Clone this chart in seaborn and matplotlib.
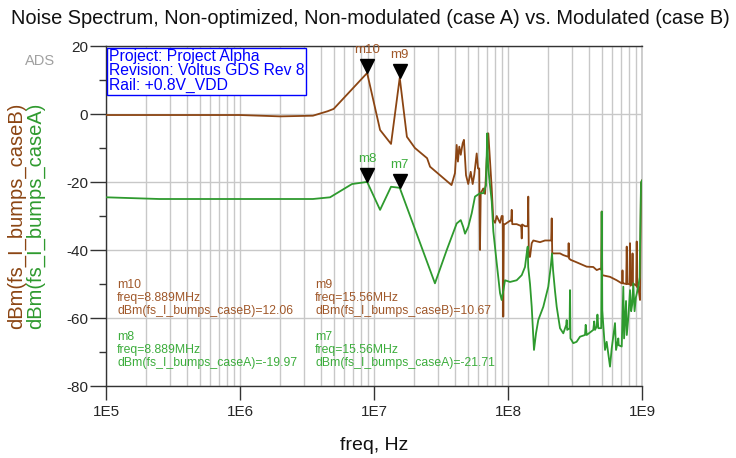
import numpy as np
import pandas as pd
import matplotlib
matplotlib.use("Agg")
import matplotlib.pyplot as plt
import matplotlib.transforms as mtransforms
from matplotlib.ticker import LogLocator, FixedLocator, NullFormatter
import seaborn as sns

# ---------------- data ----------------
freq_B_MHz = [0.1, 1.0, 2.0, 3.5, 4.5, 5.0, 8.889, 11.1, 13.4, 15.56, 17.6, 20.2, 24.9, 26.2,
              37.9, 40.2, 41.4, 42.3, 43.3, 44.4, 45.9, 46.9, 48.6, 50.5, 52.7, 54.5, 56.0,
              58.4, 59.7, 61.0, 61.8, 62.6, 65.4, 67.4, 69.3, 71.3, 73.4, 75.6, 77.7, 80.0,
              82.4, 84.6, 87.2, 89.7, 91.3, 92.2, 93.1, 95.0, 103.5, 105.6, 106.6, 107.6,
              116.1, 122.9, 125.5, 126.6, 127.7, 133.9, 140.5, 141.7, 143.0, 146.0, 150.3,
              154.5, 173.3, 188.8, 203.3, 210.0, 211.9, 213.8, 217.8, 244.4, 258.6, 281.8,
              283.5, 285.5, 293.7, 320.0, 386.6, 433.0, 459.2, 486.2, 496.0, 500.6, 505.0,
              577.2, 647.6, 705.7, 710.0, 715.0, 720.0, 725.0, 762.0, 769.0, 776.0, 806.0,
              813.8, 821.0, 845.0, 850.0, 855.0, 870.0, 905.0, 913.1, 921.0, 938.6, 966.2,
              983.0, 1000.0]
db_B = [-0.3, -0.3, -0.7, -0.5, 0.8, 1.5, 12.06, -4.7, -8.8, 10.67, -6.7, -10.0, -13.0, -15.5,
        -20.9, -17.4, -9.1, -14.0, -9.6, -12.0, -8.6, -7.6, -18.0, -20.6, -17.0, -20.6, -17.9,
        -11.6, -16.0, -16.0, -40.0, -23.3, -21.9, -23.5, -13.5, -5.7, -13.7, -21.9, -31.2, -32.0,
        -30.0, -31.0, -32.0, -30.0, -30.0, -59.6, -32.4, -32.4, -31.4, -31.4, -28.2, -32.4,
        -32.4, -32.8, -32.8, -36.6, -32.5, -33.0, -33.0, -24.3, -42.0, -42.0, -38.0,
        -37.2, -37.7, -37.2, -37.2, -37.2, -30.7, -41.0, -41.0, -41.0, -41.5, -42.0,
        -38.0, -42.5, -42.9, -43.5, -44.9, -45.0, -45.9, -45.5, -45.8, -28.7, -47.4,
        -47.9, -48.9, -49.8, -49.8, -46.0, -49.8, -49.8, -50.0, -39.0, -50.0, -50.0,
        -38.0, -50.5, -50.0, -41.0, -50.5, -50.0, -50.5, -37.5, -51.0, -50.8, -54.7,
        -20.3, -19.5]

freq_A_MHz = [0.1, 0.25, 3.5, 4.7, 6.85, 8.889, 11.1, 13.4, 15.56, 26.2, 28.5, 34.9, 41.4,
              44.4, 46.3, 47.8, 50.5, 53.6, 56.7, 61.8, 65.4, 68.5, 70.0, 71.0, 72.5, 75.6,
              77.7, 82.4, 87.2, 89.7, 93.3, 95.0, 103.5, 116.1, 126.6, 133.9, 137.9, 140.3,
              141.5, 146.0, 150.3, 156.3, 161.8, 168.3, 183.4, 199.8, 208.3, 213.0, 217.0,
              224.2, 230.9, 244.4, 258.6, 272.0, 274.2, 276.5, 288.0, 290.2, 292.5, 307.1,
              325.0, 344.6, 375.5, 380.0, 386.6, 433.0, 440.0, 446.0, 459.2, 465.0, 472.0,
              496.0, 500.6, 505.0, 529.7, 545.0, 577.2, 594.0, 628.9, 640.0, 665.6, 670.0,
              705.7, 725.4, 735.0, 760.0, 770.0, 790.0, 813.8, 830.0, 845.0, 861.0, 880.0,
              900.0, 938.6, 960.0, 983.0, 1000.0]
db_A = [-24.5, -25.0, -25.0, -24.5, -20.6, -19.97, -28.2, -21.4, -21.71, -45.9, -49.8, -40.0, -32.2,
        -31.2, -33.2, -35.2, -33.2, -29.2, -24.3, -23.3, -23.3, -21.0, -5.7, -15.0, -19.0, -25.7,
        -34.5, -43.9, -52.7, -54.7, -50.8, -48.9, -49.4, -48.9, -47.4, -45.0, -41.0, -39.0,
        -45.0, -50.0, -56.7, -69.4, -64.5, -60.6, -56.7, -50.8, -45.0, -41.0, -46.0,
        -52.0, -56.7, -63.0, -64.5, -62.0, -60.6, -63.5, -63.0, -51.8, -66.0, -67.4,
        -67.0, -65.5, -65.0, -62.0, -65.0, -63.5, -61.0, -63.5, -62.5, -59.0, -63.0,
        -63.0, -28.7, -57.7, -69.4, -67.0, -74.3, -69.0, -61.5, -69.4, -66.0, -68.0,
        -68.4, -50.8, -66.0, -55.0, -65.0, -60.0, -51.8, -58.0, -56.0, -49.8, -58.0,
        -54.0, -50.8, -48.0, -20.3, -19.5]

marker_names = ["m10", "m9", "m8", "m7"]
marker_series = ["B", "B", "A", "A"]
marker_freq_MHz = [8.889, 15.56, 8.889, 15.56]
marker_db = [12.06, 10.67, -19.97, -21.71]

info_lines = ["Project: Project Alpha", "Revision: Voltus GDS Rev 8", "Rail: +0.8V_VDD"]
title = "Noise Spectrum, Non-optimized, Non-modulated (case A) vs. Modulated (case B)"
x_ticks = [1e5, 1e6, 1e7, 1e8, 1e9]
x_ticklabels = ["1E5", "1E6", "1E7", "1E8", "1E9"]
y_ticks = [20, 0, -20, -40, -60, -80]

# ---------------- style ----------------
BROWN = "#8b4513"
BROWN_TXT = "#a0582a"
GREEN = "#2e9a2e"
GREEN_TXT = "#3cad3c"

sns.set_theme(style="white")
plt.rcParams["font.family"] = ["Liberation Sans", "DejaVu Sans"]
plt.rcParams["axes.unicode_minus"] = False

dfB = pd.DataFrame({"freq": np.array(freq_B_MHz) * 1e6, "dbm": db_B})
dfA = pd.DataFrame({"freq": np.array(freq_A_MHz) * 1e6, "dbm": db_A})

fig = plt.figure(figsize=(7.36, 4.58), dpi=100)
ax = fig.add_axes([106 / 736, 1 - 386 / 458, 536 / 736, 340 / 458])

sns.lineplot(data=dfB, x="freq", y="dbm", ax=ax, color=BROWN, lw=1.3, estimator=None, sort=False, zorder=3)
sns.lineplot(data=dfA, x="freq", y="dbm", ax=ax, color=GREEN, lw=1.3, estimator=None, sort=False, zorder=3)

ax.set_xscale("log")
ax.set_xlim(1e5, 1e9)
ax.set_ylim(-80, 20)

ax.xaxis.set_major_locator(FixedLocator(x_ticks))
ax.set_xticklabels(x_ticklabels)
ax.xaxis.set_minor_locator(LogLocator(base=10, subs=np.arange(2, 10)))
ax.xaxis.set_minor_formatter(NullFormatter())
ax.yaxis.set_major_locator(FixedLocator(y_ticks))
ax.yaxis.set_minor_locator(FixedLocator([10, -10, -30, -50, -70]))

ax.grid(True, which="major", axis="both", color="#c8c8c8", lw=1.0, zorder=0)
ax.grid(True, which="minor", axis="x", color="#c8c8c8", lw=1.0, zorder=0)

ax.tick_params(axis="x", which="major", direction="out", length=10, width=1, color="#333333",
               labelsize=11, pad=4, bottom=True)
ax.tick_params(axis="x", which="minor", length=0, bottom=True)
ax.tick_params(axis="y", which="major", direction="out", length=11.5, width=1, color="#333333",
               labelsize=11, pad=1.5, left=True)
ax.tick_params(axis="y", which="minor", direction="out", length=5, width=1, color="#333333", left=True)

for s in ["left", "bottom", "top"]:
    ax.spines[s].set_color("#333333")
    ax.spines[s].set_linewidth(1.0)
ax.spines["right"].set_color("#c8c8c8")

ax.set_xlabel("")
ax.set_ylabel("")

# markers
tri_off = mtransforms.offset_copy(ax.transData, fig=fig, x=0, y=5, units="points")
lab_off = mtransforms.offset_copy(ax.transData, fig=fig, x=0, y=12, units="points")
for name, ser, f, v in zip(marker_names, marker_series, marker_freq_MHz, marker_db):
    ax.plot([f * 1e6], [v], marker="v", color="black", markersize=10, transform=tri_off,
            zorder=5, clip_on=False)
    ax.text(f * 1e6, v, name, transform=lab_off, ha="center", va="bottom", fontsize=9.5,
            color=BROWN_TXT if ser == "B" else GREEN_TXT, zorder=5)

# readouts
read_pos = {"m10": (117, 279), "m9": (315, 279), "m8": (117, 331), "m7": (315, 331)}
for name, ser, f, v in zip(marker_names, marker_series, marker_freq_MHz, marker_db):
    px, py = read_pos[name]
    txt = f"{name}\nfreq={f:.4g}MHz\ndBm(fs_I_bumps_case{'B' if ser == 'B' else 'A'})={v:.2f}"
    fig.text(px / 736, 1 - py / 458, txt, ha="left", va="top", fontsize=8.8, linespacing=1.1,
             color=BROWN_TXT if ser == "B" else GREEN_TXT)

# info box
ax.text(0.005, 0.990, "\n".join(info_lines), transform=ax.transAxes, ha="left", va="top",
        fontsize=11.3, color="#0000ff", linespacing=0.92, zorder=6,
        bbox=dict(boxstyle="square,pad=0.12", fc="white", ec="#0000ff", lw=1.0))

# titles / labels
fig.text(370 / 736, 1 - 18 / 458, title, ha="center", va="center", fontsize=14.4, color="#111111")
fig.text(374 / 736, 1 - 446 / 458, "freq, Hz", ha="center", va="center", fontsize=14, color="#111111")
fig.text(17 / 736, 1 - 216 / 458, "dBm(fs_I_bumps_caseB)", rotation=90, ha="center", va="center",
         fontsize=14.5, color=BROWN)
fig.text(36 / 736, 1 - 216 / 458, "dBm(fs_I_bumps_caseA)", rotation=90, ha="center", va="center",
         fontsize=14.5, color=GREEN)
fig.text(40 / 736, 1 - 61 / 458, "ADS", ha="center", va="center", fontsize=10.5, color="#a0a0a0")

fig.savefig("out.png", dpi=100)
